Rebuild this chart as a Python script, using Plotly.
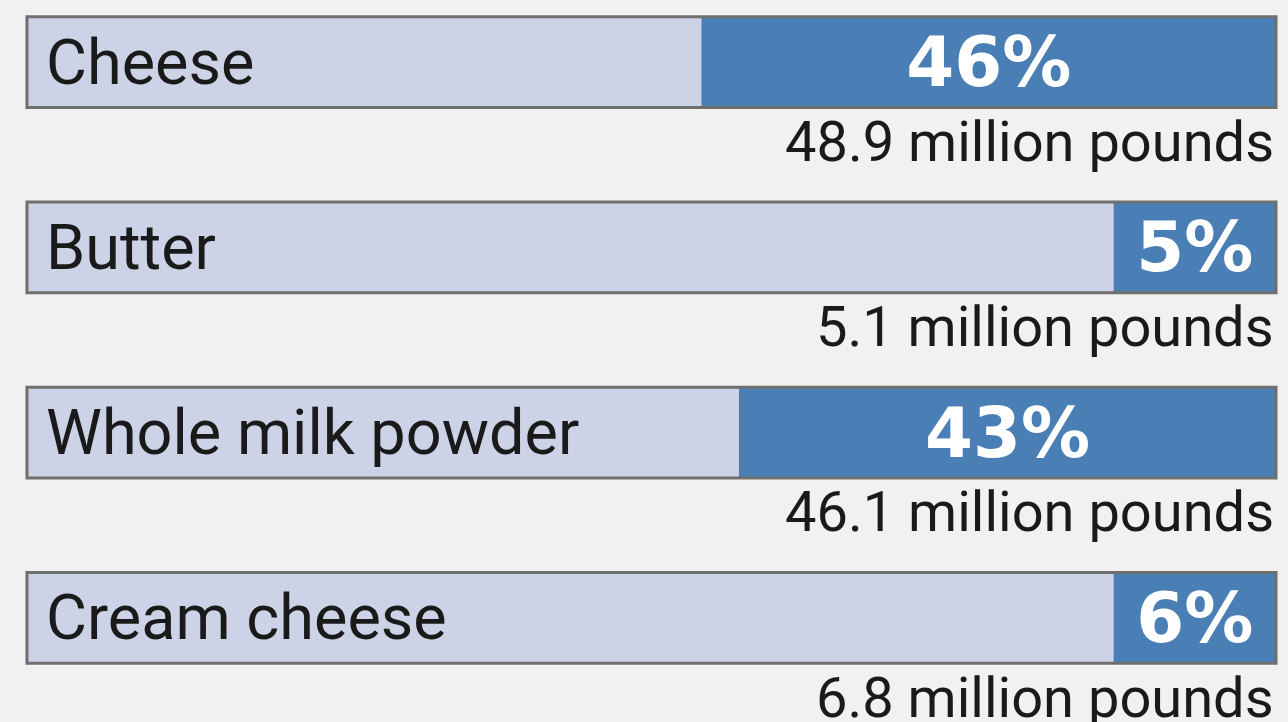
import plotly.graph_objects as go

categories = ["Cheese", "Butter", "Whole milk powder", "Cream cheese"]
shares = [46, 5, 43, 6]
volumes = ["48.9 million pounds", "5.1 million pounds", "46.1 million pounds", "6.8 million pounds"]
share_labels = [f"{s}%" for s in shares]

MIN_SHARE = 13  # smallest visible width of the highlighted segment
shown = [max(s, MIN_SHARE) for s in shares]
pos = list(range(len(categories)))

BG = "#f1f1f1"
LIGHT = "#cdd3e6"
BLUE = "#4a7fb5"
EDGE = "#6f6f6f"
BAR_W = 0.49

fig = go.Figure()
fig.add_trace(go.Bar(y=pos, x=[100] * len(pos), orientation="h", width=BAR_W,
                     marker=dict(color=LIGHT, line=dict(width=0)), hoverinfo="skip"))
fig.add_trace(go.Bar(y=pos, x=shown, base=[100 - w for w in shown], orientation="h", width=BAR_W,
                     marker=dict(color=BLUE, line=dict(width=0)),
                     text=share_labels, textposition="inside", insidetextanchor="middle",
                     textfont=dict(family="DejaVu Sans", size=69, color="white", weight="bold"),
                     constraintext="none", cliponaxis=False))
fig.add_trace(go.Bar(y=pos, x=[100] * len(pos), orientation="h", width=BAR_W,
                     marker=dict(color="rgba(0,0,0,0)", line=dict(width=3, color=EDGE)), hoverinfo="skip"))

for i, (c, v) in enumerate(zip(categories, volumes)):
    fig.add_annotation(x=1.4, y=i, text=c, showarrow=False, xanchor="left", yanchor="middle",
                       font=dict(family="Roboto", size=63, color="#1a1a1a"))
    fig.add_annotation(x=100, y=i + 0.43, text=v, showarrow=False, xanchor="right", yanchor="middle",
                       font=dict(family="Roboto", size=56, color="#1a1a1a"))

fig.update_layout(
    width=1288, height=722, margin=dict(l=0, r=0, t=0, b=0),
    paper_bgcolor=BG, plot_bgcolor=BG, barmode="overlay", showlegend=False,
    xaxis=dict(range=[-2.16, 100.96], visible=False, fixedrange=True),
    yaxis=dict(range=[3.562, -0.335], visible=False, fixedrange=True),
    uniformtext=dict(minsize=1, mode="show"),
)
fig.write_html("out.html")
